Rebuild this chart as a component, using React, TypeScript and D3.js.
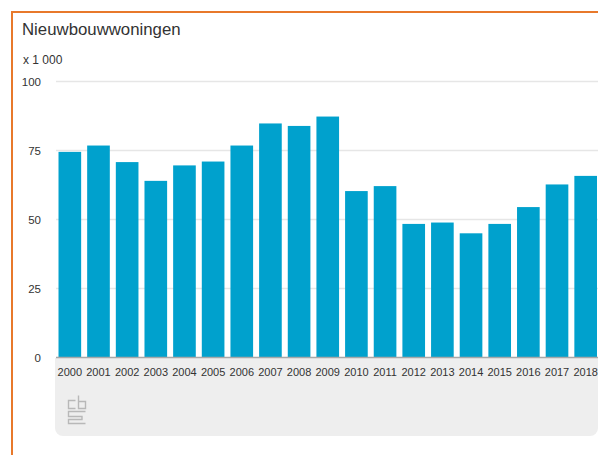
import React from "react";
import * as d3 from "d3";

const title = "Nieuwbouwwoningen";
const unit = "x 1 000";
const years = ["2000","2001","2002","2003","2004","2005","2006","2007","2008","2009","2010","2011","2012","2013","2014","2015","2016","2017","2018"];
const values = [74.5,76.8,70.8,64,69.6,71,76.8,84.8,83.9,87.3,60.3,62.1,48.4,48.9,45,48.4,54.5,62.7,65.8];
const yTicks = [0,25,50,75,100];

const font = "Arial, 'Liberation Sans', sans-serif";

export default function App() {
  const x = d3.scaleBand<string>().domain(years).range([55.5, 600]).paddingInner(0.21).paddingOuter(0.105);
  const y = d3.scaleLinear().domain([0, 100]).range([357.5, 81.5]);
  return (
    <svg width={598} height={455} style={{ position: "fixed", left: 0, top: 0, display: "block", background: "#fff" }}>
      <path d="M12 455V12H598" fill="none" stroke="#e8792b" strokeWidth={2} />
      <text x={22} y={35} fontFamily={font} fontSize={16.8} fill="#333">{title}</text>
      <text x={23} y={64} fontFamily={font} fontSize={12} fill="#333">{unit}</text>
      <path d="M55 358H598V428a8 8 0 0 1 -8 8H63a8 8 0 0 1 -8 -8Z" fill="#eeeeee" />
      {yTicks.map(t => (
        <g key={t}>
          {t > 0 && <line x1={56} x2={598} y1={y(t)} y2={y(t)} stroke="#e6e6e6" strokeWidth={1.3} />}
          <text x={41} y={y(t) + 4} textAnchor="end" fontFamily={font} fontSize={11.5} fill="#333">{t}</text>
        </g>
      ))}
      {years.map((yr, i) => (
        <rect key={yr} x={x(yr)} y={y(values[i])} width={x.bandwidth()} height={y(0) - y(values[i])} fill="#00a1cd" />
      ))}
      <line x1={56} x2={598} y1={357.5} y2={357.5} stroke="#a8a8a8" strokeWidth={1.5} />
      {years.map(yr => (
        <text key={yr} x={x(yr)! + x.bandwidth() / 2} y={376} textAnchor="middle" fontFamily={font} fontSize={11} fill="#333">{yr}</text>
      ))}
      <g fill="none" stroke="#b8b8b8" strokeWidth={1.4}>
        <path d="M75.5 400.5H68.5V408.5H75.5" />
        <path d="M78.5 395.5V408.5H85.5V401.5H78.5" />
        <path d="M85.5 411.5H68.5V416.5H82V419.5H68.5V423.5H85.5" />
      </g>
    </svg>
  );
}
